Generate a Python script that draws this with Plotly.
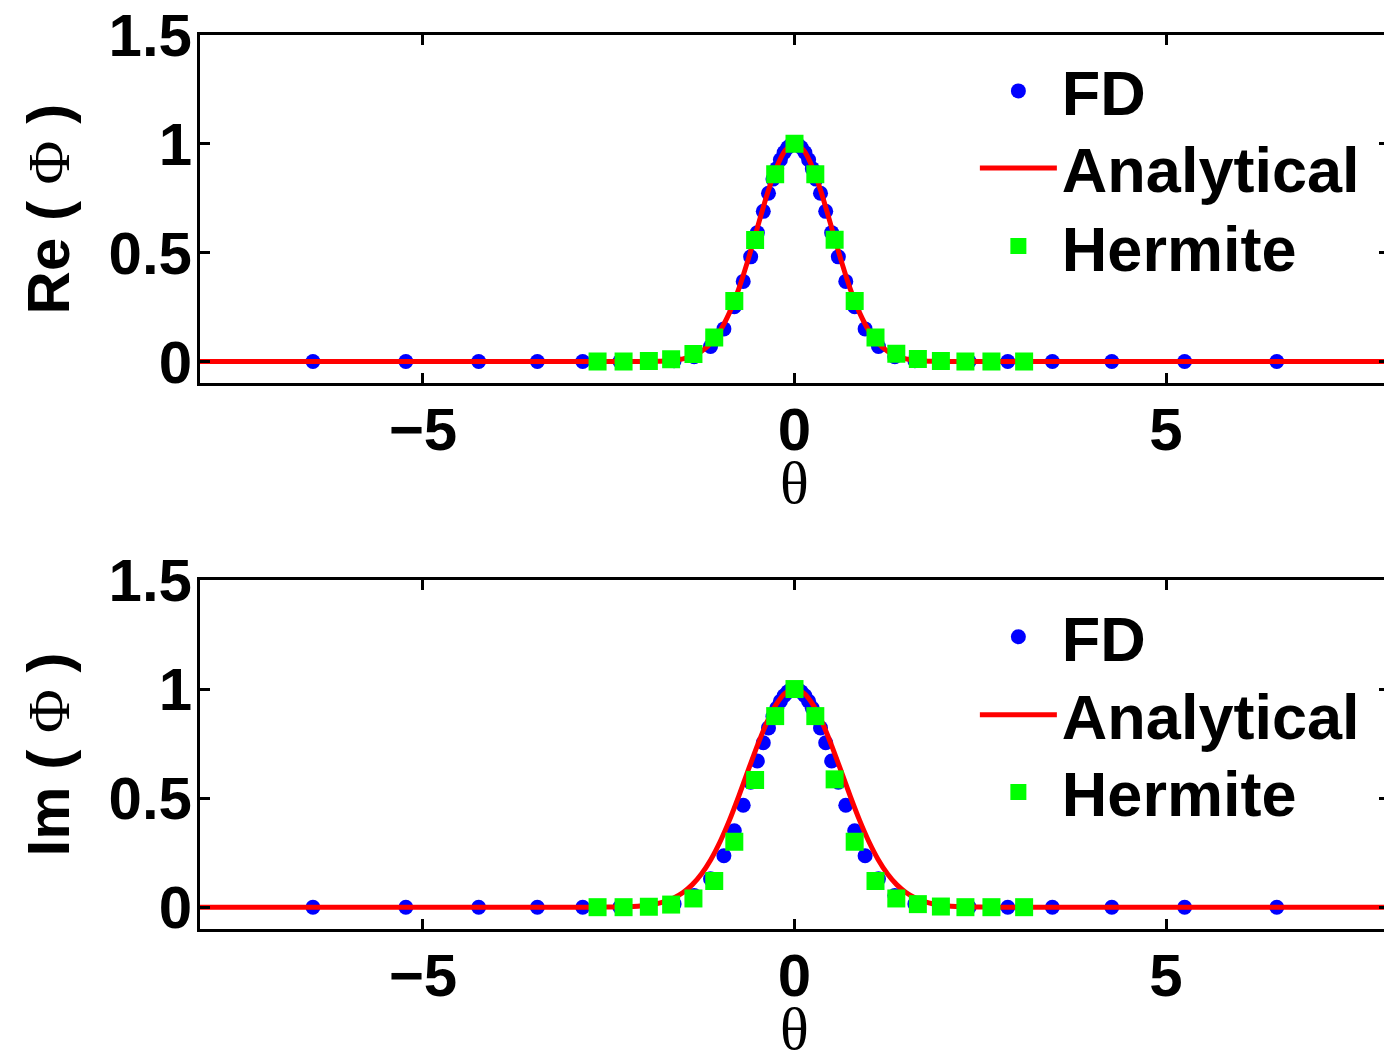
import plotly.graph_objects as go

# ---------------- data ----------------
fd_theta = [-6.48, -5.23, -4.25, -3.46, -2.85, -2.35, -1.95, -1.62, -1.35, -1.13,
            -0.95, -0.81, -0.69, -0.59, -0.50, -0.42, -0.35, -0.29, -0.24, -0.19,
            -0.14, -0.09, -0.05, 0.0, 0.05, 0.09, 0.14, 0.19, 0.24, 0.29, 0.35,
            0.42, 0.50, 0.59, 0.69, 0.81, 0.95, 1.13, 1.35, 1.62, 1.95, 2.35,
            2.87, 3.47, 4.27, 5.25, 6.49]
fd_re = [0, 0, 0, 0, 0, 0.0, 0.0003, 0.004, 0.022, 0.069,
         0.150, 0.252, 0.368, 0.481, 0.592, 0.690, 0.773, 0.838, 0.886, 0.927,
         0.960, 0.983, 0.995, 1.0, 0.995, 0.983, 0.960, 0.927, 0.886, 0.838, 0.773,
         0.690, 0.592, 0.481, 0.368, 0.252, 0.150, 0.069, 0.022, 0.004, 0.0003, 0.0,
         0, 0, 0, 0, 0]
fd_im = [0, 0, 0, 0, 0, 0.0002, 0.0023, 0.015, 0.054, 0.130,
         0.236, 0.350, 0.467, 0.573, 0.670, 0.754, 0.822, 0.874, 0.912, 0.944,
         0.969, 0.987, 0.996, 1.0, 0.996, 0.987, 0.969, 0.944, 0.912, 0.874, 0.822,
         0.754, 0.670, 0.573, 0.467, 0.350, 0.236, 0.130, 0.054, 0.015, 0.0023, 0.0002,
         0, 0, 0, 0, 0]

an_theta = [-8.0, -3.0, -2.5, -2.25, -2.0, -1.875, -1.75, -1.625, -1.5, -1.375,
            -1.25, -1.125, -1.0, -0.875, -0.75, -0.625, -0.5, -0.375, -0.25, -0.125,
            0.0, 0.125, 0.25, 0.375, 0.5, 0.625, 0.75, 0.875, 1.0, 1.125,
            1.25, 1.375, 1.5, 1.625, 1.75, 1.875, 2.0, 2.25, 2.5, 3.0, 8.0]
an_re = [0.0, 0.0, 0.0, 0.00005, 0.0004, 0.00105, 0.0026, 0.0058, 0.0124, 0.0250,
         0.0475, 0.0848, 0.1423, 0.2247, 0.3339, 0.4669, 0.6142, 0.7602, 0.8852, 0.9700,
         1.0, 0.9700, 0.8852, 0.7602, 0.6142, 0.4669, 0.3339, 0.2247, 0.1423, 0.0848,
         0.0475, 0.0250, 0.0124, 0.0058, 0.0026, 0.00105, 0.0004, 0.00005, 0.0, 0.0, 0.0]
an_im = [0.0, 0.00002, 0.0005, 0.0023, 0.0082, 0.0147, 0.0253, 0.0421, 0.0672, 0.1034,
         0.1534, 0.2190, 0.3012, 0.3990, 0.5092, 0.6258, 0.7408, 0.8448, 0.9277, 0.9814,
         1.0, 0.9814, 0.9277, 0.8448, 0.7408, 0.6258, 0.5092, 0.3990, 0.3012, 0.2190,
         0.1534, 0.1034, 0.0672, 0.0421, 0.0253, 0.0147, 0.0082, 0.0023, 0.0005, 0.00002, 0.0]

herm_theta = [-2.65, -2.30, -1.96, -1.66, -1.36, -1.08, -0.81, -0.53, -0.26, 0.0,
              0.28, 0.54, 0.81, 1.09, 1.37, 1.66, 1.97, 2.30, 2.65, 3.09]
herm_re = [0, 0, 0.003, 0.010, 0.035, 0.110, 0.278, 0.558, 0.860, 1.0,
           0.860, 0.560, 0.278, 0.110, 0.036, 0.012, 0.003, 0, 0, 0]
herm_im = [0, 0, 0.002, 0.012, 0.040, 0.120, 0.300, 0.583, 0.876, 1.0,
           0.876, 0.586, 0.300, 0.120, 0.040, 0.014, 0.003, 0, 0, 0]

x_ticks = [-5, 0, 5]
y_ticks = [0, 0.5, 1, 1.5]
x_range = [-8, 8]
y_range = [-0.1, 1.5]
series_names = ["FD", "Analytical", "Hermite"]
x_title = "θ"
y_titles = ["Re ( <span style='font-family:Liberation Serif;font-weight:normal'>Φ</span> )",
            "Im ( <span style='font-family:Liberation Serif;font-weight:normal'>Φ</span> )"]

# ---------------- figure ----------------
fig = go.Figure()
panels = [("x", "y", ["legend", "legend2", "legend3"], fd_re, an_re, herm_re),
          ("x2", "y2", ["legend4", "legend5", "legend6"], fd_im, an_im, herm_im)]
for xa, ya, lgs, fd_y, an_y, h_y in panels:
    fig.add_trace(go.Scatter(x=fd_theta, y=fd_y, mode="markers", name=series_names[0],
                             marker=dict(color="#0000FF", size=15, symbol="circle"),
                             xaxis=xa, yaxis=ya, legend=lgs[0], showlegend=True))
    fig.add_trace(go.Scatter(x=an_theta, y=an_y, mode="lines", name=series_names[1],
                             line=dict(color="#FF0000", width=5, shape="spline", smoothing=0.6),
                             xaxis=xa, yaxis=ya, legend=lgs[1], showlegend=True))
    fig.add_trace(go.Scatter(x=herm_theta, y=h_y, mode="markers", name=series_names[2],
                             marker=dict(color="#00FF00", size=18, symbol="square"),
                             xaxis=xa, yaxis=ya, legend=lgs[2], showlegend=True))
    # x-axis title (theta), placed just below the tick labels
    fig.add_annotation(text=x_title, xref=xa + " domain", yref=ya + " domain", x=0.5, y=0,
                       xanchor="center", yanchor="middle", yshift=-100, showarrow=False,
                       font=dict(family="Liberation Serif", size=60, color="black"))

tickfont = dict(family="Liberation Sans", size=60, color="black", weight="bold")
common = dict(showline=True, linecolor="black", linewidth=3, mirror="ticks",
              ticks="inside", ticklen=10, tickwidth=3, tickcolor="black",
              showgrid=False, zeroline=False, tickfont=tickfont, automargin=False)

yt_font = dict(family="Liberation Sans", size=60, color="black", weight="bold")
legend_common = dict(font=dict(family="Liberation Sans", size=63, color="black", weight="bold"),
                     bgcolor="rgba(0,0,0,0)", borderwidth=0, xanchor="left", yanchor="middle",
                     itemwidth=77, tracegroupgap=0, x=0.6517, visible=True)
legend_y = [0.9374, 0.8513, 0.7640, 0.3268, 0.2395, 0.1533]
legends = {}
for i, yv in enumerate(legend_y):
    key = "legend" if i == 0 else "legend%d" % (i + 1)
    legends[key] = dict(y=yv, **legend_common)

# page body has an 8px margin: figure is 8px smaller so it ends at the window edge
fig.update_layout(
    width=1384, height=1049,
    showlegend=True,
    margin=dict(l=192, r=3, t=27, b=128, autoexpand=False),
    paper_bgcolor="white", plot_bgcolor="white",
    xaxis=dict(domain=[0, 1], range=x_range, tickvals=x_ticks, anchor="y",
               ticklabelstandoff=-8, **common),
    yaxis=dict(domain=[0.6104, 1], range=y_range, tickvals=y_ticks, anchor="x",
               title=dict(text=y_titles[0], font=yt_font, standoff=20),
               ticklabelstandoff=-7, ticklabeloverflow="allow", **common),
    xaxis2=dict(domain=[0, 1], range=x_range, tickvals=x_ticks, anchor="y2",
                ticklabelstandoff=-8, **common),
    yaxis2=dict(domain=[0, 0.3904], range=y_range, tickvals=y_ticks, anchor="x2",
                title=dict(text=y_titles[1], font=yt_font, standoff=20),
                ticklabelstandoff=-7, ticklabeloverflow="allow", **common),
    **legends,
)

fig.write_html("out.html")
